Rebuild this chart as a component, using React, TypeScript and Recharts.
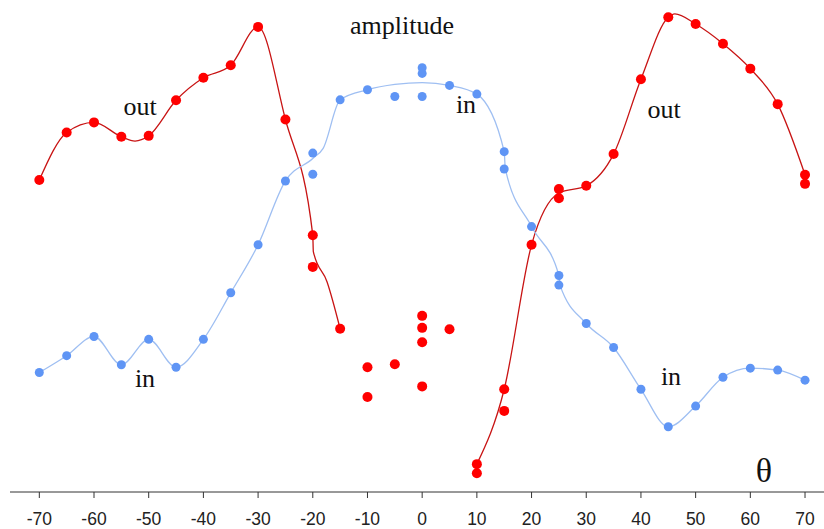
import React from "react"
import { ComposedChart, Line, Scatter, XAxis, YAxis } from "recharts"

// angle ticks (degrees)
const thetaTicks = [-70, -60, -50, -40, -30, -20, -10, 0, 10, 20, 30, 40, 50, 60, 70]

// measured points, "out" (red)
const outPoints = [
  { x: -70, y: 65.0 }, { x: -65, y: 74.9 }, { x: -60, y: 77.0 }, { x: -55, y: 74.0 },
  { x: -50, y: 74.2 }, { x: -45, y: 81.6 }, { x: -40, y: 86.3 }, { x: -35, y: 88.9 },
  { x: -30, y: 96.9 }, { x: -25, y: 77.6 }, { x: -20, y: 53.5 }, { x: -20, y: 46.9 },
  { x: -15, y: 34.0 }, { x: -10, y: 26.0 }, { x: -10, y: 19.8 }, { x: -5, y: 26.6 },
  { x: 0, y: 36.7 }, { x: 0, y: 34.2 }, { x: 0, y: 31.2 }, { x: 0, y: 22.0 },
  { x: 5, y: 33.9 }, { x: 10, y: 5.8 }, { x: 10, y: 3.9 }, { x: 15, y: 21.4 },
  { x: 15, y: 16.9 }, { x: 20, y: 51.5 }, { x: 25, y: 63.1 }, { x: 25, y: 61.2 },
  { x: 30, y: 63.8 }, { x: 35, y: 70.4 }, { x: 40, y: 86.0 }, { x: 45, y: 98.9 },
  { x: 50, y: 97.5 }, { x: 55, y: 93.4 }, { x: 60, y: 88.2 }, { x: 65, y: 80.8 },
  { x: 70, y: 66.1 }, { x: 70, y: 64.2 },
]

// measured points, "in" (blue)
const inPoints = [
  { x: -70, y: 24.9 }, { x: -65, y: 28.4 }, { x: -60, y: 32.4 }, { x: -55, y: 26.5 },
  { x: -50, y: 31.8 }, { x: -45, y: 26.0 }, { x: -40, y: 31.8 }, { x: -35, y: 41.5 },
  { x: -30, y: 51.5 }, { x: -25, y: 64.8 }, { x: -20, y: 70.6 }, { x: -20, y: 66.2 },
  { x: -15, y: 81.7 }, { x: -10, y: 83.8 }, { x: -5, y: 82.4 }, { x: 0, y: 88.4 },
  { x: 0, y: 87.2 }, { x: 0, y: 82.4 }, { x: 5, y: 84.7 }, { x: 10, y: 82.9 },
  { x: 15, y: 70.9 }, { x: 15, y: 67.3 }, { x: 20, y: 55.3 }, { x: 25, y: 45.1 },
  { x: 25, y: 43.1 }, { x: 30, y: 35.1 }, { x: 35, y: 30.1 }, { x: 40, y: 21.4 },
  { x: 45, y: 13.6 }, { x: 50, y: 17.9 }, { x: 55, y: 23.9 }, { x: 60, y: 25.8 },
  { x: 65, y: 25.4 }, { x: 70, y: 23.3 },
]

// fitted curves
const outCurveLeft = [
  { x: -70, y: 65.0 }, { x: -65, y: 74.9 }, { x: -60, y: 77.0 }, { x: -55, y: 74.0 },
  { x: -52.5, y: 73.1 }, { x: -50, y: 74.2 }, { x: -45, y: 81.6 }, { x: -40, y: 86.3 },
  { x: -35, y: 88.9 }, { x: -30, y: 96.9 }, { x: -25, y: 77.6 }, { x: -20, y: 53.5 },
  { x: -19.9, y: 50.1 }, { x: -17.4, y: 43.8 }, { x: -15, y: 34.0 },
]

const outCurveRight = [
  { x: 10, y: 5.8 }, { x: 15, y: 21.4 }, { x: 20, y: 51.5 }, { x: 25, y: 62.3 },
  { x: 30, y: 63.8 }, { x: 35, y: 70.4 }, { x: 40, y: 86.0 }, { x: 45, y: 98.9 },
  { x: 46.2, y: 99.6 }, { x: 50, y: 97.5 }, { x: 55, y: 93.4 }, { x: 60, y: 88.2 },
  { x: 65, y: 80.8 }, { x: 70, y: 66.1 },
]

const inCurve = [
  { x: -70, y: 24.9 }, { x: -65, y: 28.4 }, { x: -60, y: 32.4 }, { x: -55, y: 26.5 },
  { x: -50, y: 31.8 }, { x: -45, y: 26.0 }, { x: -40, y: 31.8 }, { x: -35, y: 41.5 },
  { x: -30, y: 51.5 }, { x: -25, y: 64.8 }, { x: -20, y: 69.5 }, { x: -18.1, y: 71.6 },
  { x: -15, y: 81.7 }, { x: -10, y: 83.8 }, { x: -5, y: 84.9 }, { x: 0, y: 85.3 },
  { x: 5, y: 84.7 }, { x: 10, y: 82.9 }, { x: 15, y: 70.9 }, { x: 15.2, y: 67.3 },
  { x: 20, y: 55.3 }, { x: 25, y: 45.1 }, { x: 25.2, y: 43.1 }, { x: 30, y: 35.1 },
  { x: 35, y: 30.1 }, { x: 40, y: 21.4 }, { x: 45, y: 13.6 }, { x: 50, y: 17.9 },
  { x: 55, y: 23.9 }, { x: 60, y: 25.8 }, { x: 65, y: 25.4 }, { x: 70, y: 23.3 },
]

const RED = "#ff0000"
const RED_LINE = "#c81414"
const BLUE = "#5f95f5"
const BLUE_LINE = "#9fbff2"

const serif = "'Liberation Serif', 'DejaVu Serif', serif"

const redDot = (p: any) => <circle cx={p.cx} cy={p.cy} r={5} fill={RED} />
const blueDot = (p: any) => <circle cx={p.cx} cy={p.cy} r={4.5} fill={BLUE} />

export default function App() {
  return (
    <div style={{ position: "absolute", left: 0, top: 0, width: 824, height: 529, background: "#fff" }}>
      <ComposedChart width={824} height={529} margin={{ top: 12, right: 0, left: 10, bottom: 0 }}>
        <XAxis
          type="number"
          dataKey="x"
          domain={[-75.36, 73.47]}
          ticks={thetaTicks}
          allowDataOverflow
          height={37}
          tickSize={6}
          tickMargin={15}
          stroke="#333"
          tick={{ fill: "#222", fontSize: 17.5, fontFamily: "'Liberation Sans', Arial, sans-serif" }}
        />
        <YAxis type="number" dataKey="y" domain={[0, 100]} hide />
        <Line data={outCurveLeft} dataKey="y" type="monotone" stroke={RED_LINE} strokeWidth={1.3} dot={false} isAnimationActive={false} />
        <Line data={outCurveRight} dataKey="y" type="monotone" stroke={RED_LINE} strokeWidth={1.3} dot={false} isAnimationActive={false} />
        <Line data={inCurve} dataKey="y" type="monotone" stroke={BLUE_LINE} strokeWidth={1.3} dot={false} isAnimationActive={false} />
        <Scatter data={inPoints} dataKey="y" shape={blueDot} isAnimationActive={false} />
        <Scatter data={outPoints} dataKey="y" shape={redDot} isAnimationActive={false} />
      </ComposedChart>
      <svg width={824} height={529} style={{ position: "absolute", left: 0, top: 0, pointerEvents: "none" }}>
        <g fontFamily={serif} fill="#111" fontSize={26} textAnchor="middle">
          <text x={402} y={34}>amplitude</text>
          <text x={140} y={115}>out</text>
          <text x={664} y={118}>out</text>
          <text x={466} y={113}>in</text>
          <text x={145} y={387}>in</text>
          <text x={671} y={385}>in</text>
          <text x={764} y={482} fontSize={34}>θ</text>
        </g>
      </svg>
    </div>
  )
}
